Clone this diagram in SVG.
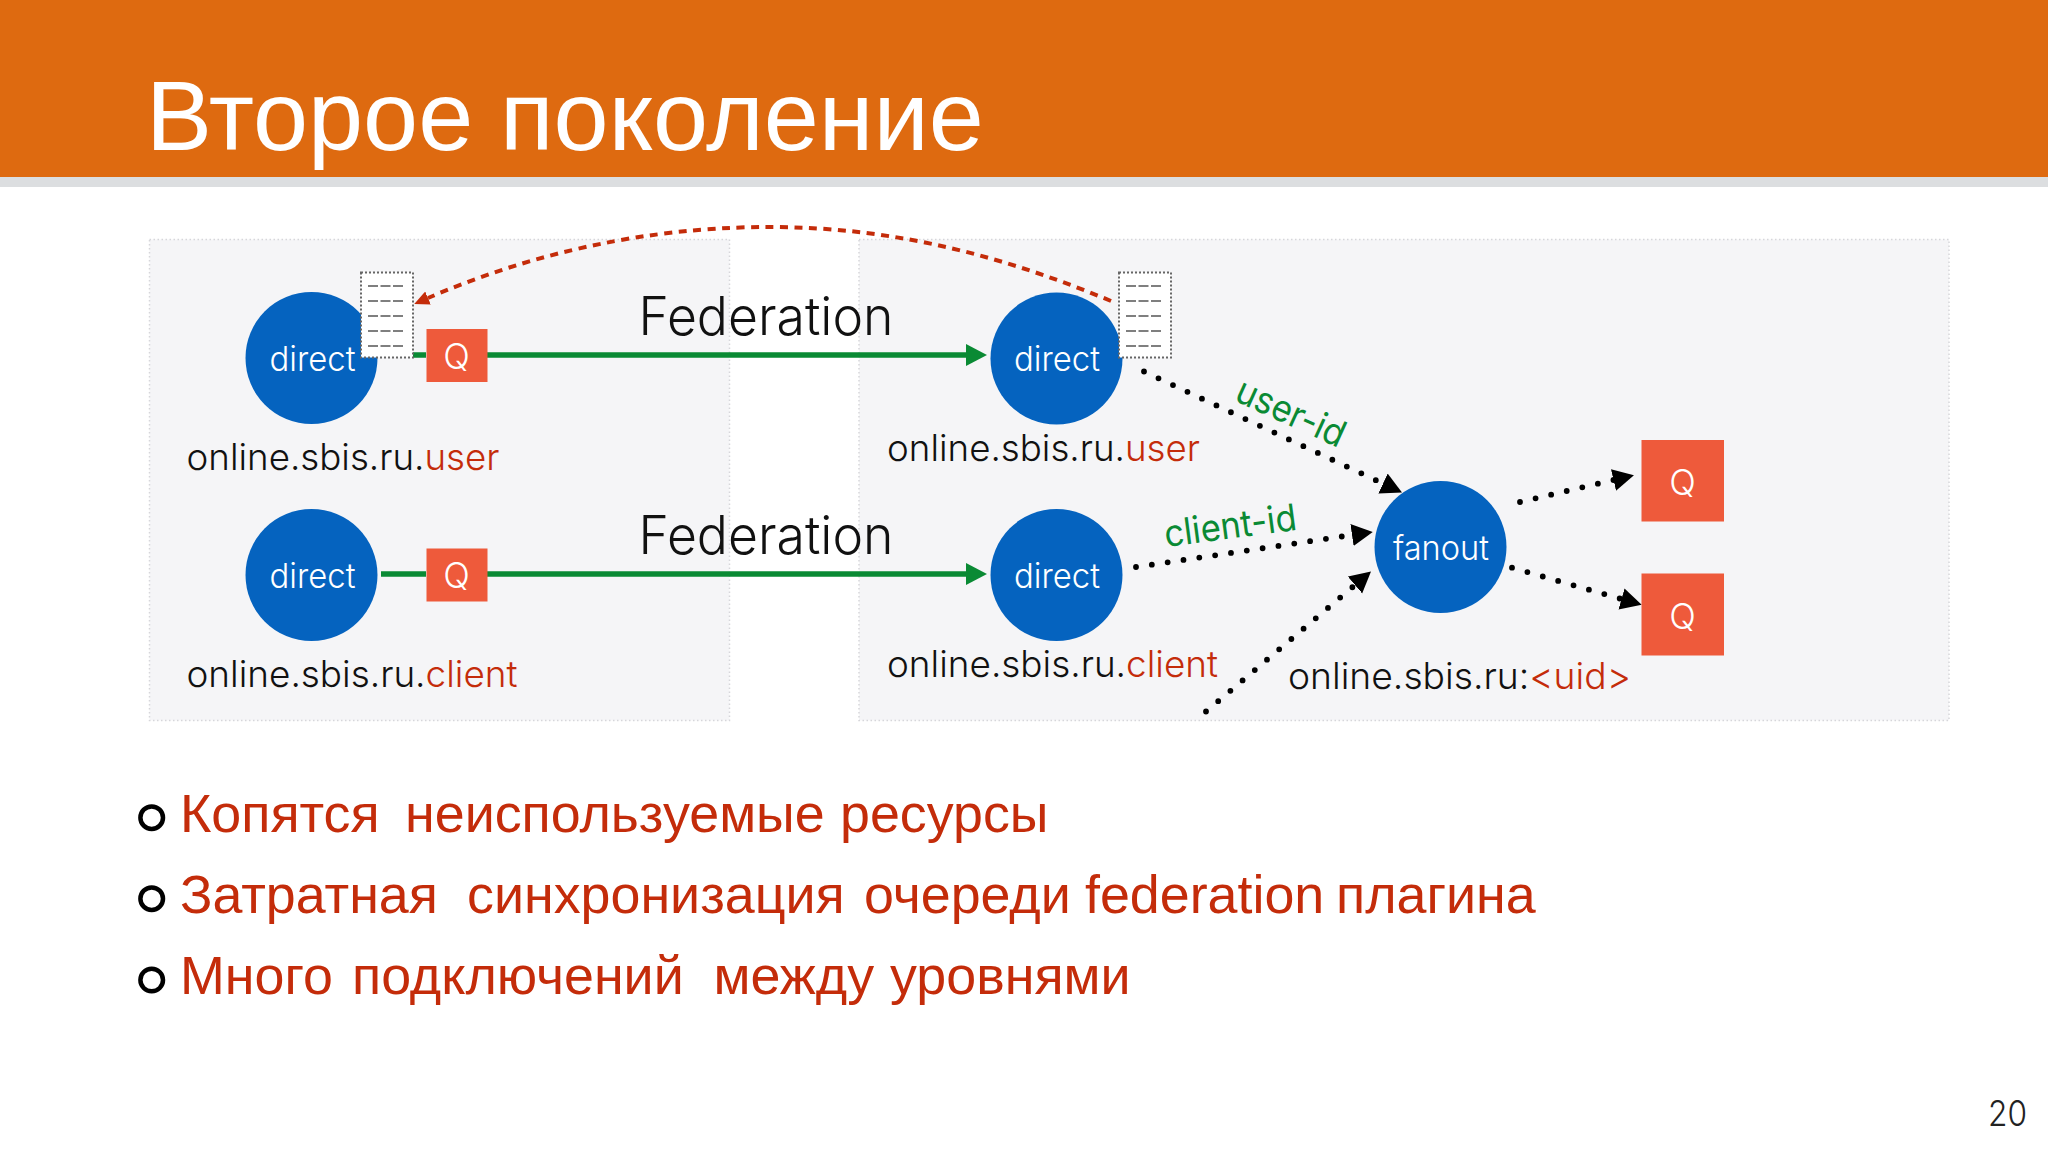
<svg xmlns="http://www.w3.org/2000/svg" width="2048" height="1152" viewBox="0 0 2048 1152">
<style>
.thin{font-family:"Inter","Roboto","Liberation Sans",sans-serif;font-weight:300}
.lbl{font-size:37px;fill:#111}
.red{fill:#c42c0a}
.node{font-size:34px;fill:#fff;text-anchor:middle}
.q{font-size:35px;fill:#fff;text-anchor:middle}
.fed{font-size:53px;fill:#111}
.edge-lbl{font-family:"Inter","Liberation Sans",sans-serif;font-weight:400;font-size:37px;fill:#0a8a34}
.bul{font-family:"Liberation Sans",sans-serif;font-size:53.8px;fill:#c42c0a}
.title{font-family:"Liberation Sans",sans-serif;font-size:99px;fill:#fff}
.panel{fill:#f5f5f7;stroke:#d6d6da;stroke-width:1.5;stroke-dasharray:1.500 2.500}
.circ{fill:#0563bf}
.qb{fill:#ee5a3b}
.doc{fill:#fff;stroke:#666;stroke-width:2;stroke-dasharray:2 2}
.dash{stroke:#555;stroke-width:1.600;stroke-dasharray:10 2.5;fill:none}
.green{stroke:#0a8a34;stroke-width:5.5;fill:none}
.dots{stroke:#000;stroke-width:5.8;stroke-linecap:round;stroke-dasharray:0 16;fill:none}
.ring{fill:none;stroke:#000;stroke-width:4.5}
</style>
<defs>
<marker id="ag" markerUnits="userSpaceOnUse" markerWidth="24" markerHeight="24" refX="0" refY="11" orient="auto"><path d="M0 0L21 11L0 22Z" fill="#0a8a34"/></marker>
<marker id="ab" markerUnits="userSpaceOnUse" markerWidth="24" markerHeight="24" refX="0" refY="11" orient="auto"><path d="M0 0L21 11L0 22Z" fill="#000"/></marker>
<marker id="ar" markerUnits="userSpaceOnUse" markerWidth="18" markerHeight="16" refX="0" refY="7" orient="auto"><path d="M0 0L15 7L0 14Z" fill="#c42c0a"/></marker>
</defs>
<rect width="2048" height="1152" fill="#fff"/>
<rect id="header" width="2048" height="177" fill="#de6a10"/>
<rect y="177" width="2048" height="10" fill="#dcdee0"/>
<text class="title" x="146" y="150">Второе <tspan x="500">поколение</tspan></text>
<rect class="panel" x="149.500" y="239.500" width="580" height="481"/>
<rect class="panel" x="859" y="239.500" width="1090" height="481"/>
<g id="connectors">
<path class="green" d="M413 355H426M487 355H966" marker-end="url(#ag)"/>
<path class="green" d="M381 574H426M487 574H966" marker-end="url(#ag)"/>
<path d="M1111 301C1010 259 900 227 770 227C680 227 560 241 428 298" fill="none" stroke="#c42c0a" stroke-width="4" stroke-dasharray="8 6.500" marker-end="url(#ar)"/>
<path class="dots" d="M1144 371.500L1383 483.500" marker-end="url(#ab)"/>
<path class="dots" d="M1136 567L1352 535" marker-end="url(#ab)"/>
<path class="dots" d="M1206 711.500L1355 585" marker-end="url(#ab)"/>
<path class="dots" d="M1520 502L1613.500 480" marker-end="url(#ab)"/>
<path class="dots" d="M1512 567.700L1621.500 599" marker-end="url(#ab)"/>
</g>
<g id="n1"><circle class="circ" cx="311.500" cy="358" r="66"/><text class="thin node" x="312.500" y="370.500" textLength="86" lengthAdjust="spacingAndGlyphs">direct</text></g>
<g id="doc1"><rect class="doc" x="361" y="272.500" width="52" height="85"/><path class="dash" d="M368 286H404M368 301H404M368 316H404M368 331H404M368 346H404"/></g>
<g id="q1"><rect class="qb" x="426.500" y="329" width="61" height="53"/><text class="thin q" x="456.500" y="369">Q</text></g>
<g id="n2"><circle class="circ" cx="311.500" cy="575" r="66"/><text class="thin node" x="312.500" y="587.500" textLength="86" lengthAdjust="spacingAndGlyphs">direct</text></g>
<g id="q2"><rect class="qb" x="426.500" y="548.500" width="61" height="53"/><text class="thin q" x="456.500" y="588">Q</text></g>
<g id="n3"><circle class="circ" cx="1056.500" cy="358.500" r="66"/><text class="thin node" x="1057" y="370.500" textLength="86" lengthAdjust="spacingAndGlyphs">direct</text></g>
<g id="doc2"><rect class="doc" x="1119" y="272.500" width="52" height="85"/><path class="dash" d="M1126 286H1162M1126 301H1162M1126 316H1162M1126 331H1162M1126 346H1162"/></g>
<g id="n4"><circle class="circ" cx="1056.500" cy="575" r="66"/><text class="thin node" x="1057" y="587.500" textLength="86" lengthAdjust="spacingAndGlyphs">direct</text></g>
<g id="fan"><circle class="circ" cx="1440.500" cy="547" r="66"/><text class="thin node" x="1441" y="560" textLength="96" lengthAdjust="spacingAndGlyphs">fanout</text></g>
<g id="q3"><rect class="qb" x="1641.500" y="440" width="82.500" height="81.500"/><text class="thin q" x="1682.500" y="495">Q</text></g>
<g id="q4"><rect class="qb" x="1641.500" y="573.500" width="82.500" height="82"/><text class="thin q" x="1682.500" y="629">Q</text></g>
<text class="thin fed" x="638.500" y="335" textLength="255" lengthAdjust="spacingAndGlyphs">Federation</text>
<text class="thin fed" x="638.500" y="554" textLength="255" lengthAdjust="spacingAndGlyphs">Federation</text>
<text class="thin lbl" x="186.500" y="470" textLength="313" lengthAdjust="spacingAndGlyphs">online.sbis.ru.<tspan class="red">user</tspan></text>
<text class="thin lbl" x="186.500" y="687" textLength="331" lengthAdjust="spacingAndGlyphs">online.sbis.ru.<tspan class="red">client</tspan></text>
<text class="thin lbl" x="887" y="461" textLength="313" lengthAdjust="spacingAndGlyphs">online.sbis.ru.<tspan class="red">user</tspan></text>
<text class="thin lbl" x="887" y="677" textLength="331" lengthAdjust="spacingAndGlyphs">online.sbis.ru.<tspan class="red">client</tspan></text>
<text class="thin lbl" x="1288" y="688.500" textLength="343" lengthAdjust="spacingAndGlyphs">online.sbis.ru:<tspan class="red">&lt;uid&gt;</tspan></text>
<text class="edge-lbl" transform="translate(1233 400) rotate(24.500)" textLength="116" lengthAdjust="spacingAndGlyphs">user-id</text>
<text class="edge-lbl" transform="translate(1166 547) rotate(-7.500)" textLength="133" lengthAdjust="spacingAndGlyphs">client-id</text>
<circle class="ring" cx="151.700" cy="817.700" r="11.300"/>
<circle class="ring" cx="151.700" cy="898.700" r="11.300"/>
<circle class="ring" cx="151.700" cy="980" r="11.300"/>
<text class="bul" x="180" y="832">Копятся <tspan x="405">неиспользуемые</tspan> <tspan x="840">ресурсы</tspan></text>
<text class="bul" x="180" y="913">Затратная <tspan x="467">синхронизация</tspan> <tspan x="864">очереди</tspan> <tspan x="1085">federation</tspan> <tspan x="1336">плагина</tspan></text>
<text class="bul" x="180" y="994">Много <tspan x="352">подключений</tspan> <tspan x="713.500">между</tspan> <tspan x="890">уровнями</tspan></text>
<text class="thin" x="1988" y="1126" font-size="36" fill="#222" textLength="39" lengthAdjust="spacingAndGlyphs">20</text>
</svg>
